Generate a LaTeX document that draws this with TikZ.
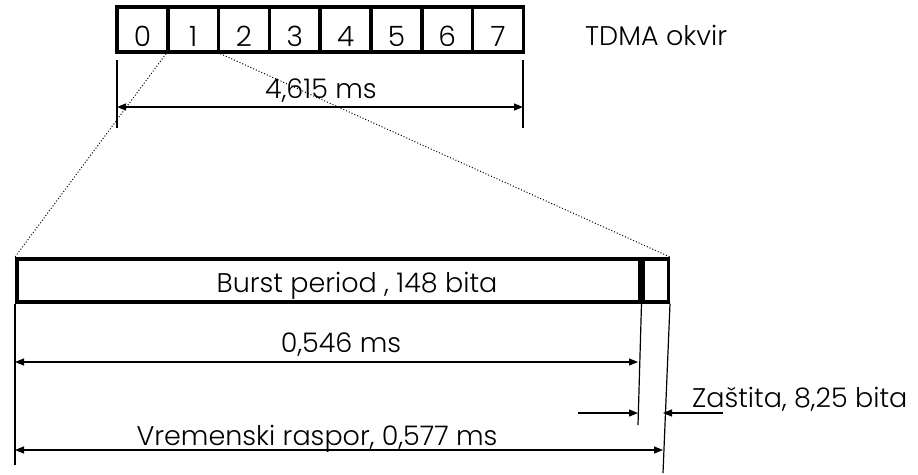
\documentclass[tikz,border=0pt]{standalone}
\usepackage{fontspec}
\setmainfont{Poppins}[UprightFont=* Light]
\usetikzlibrary{arrows.meta}

\begin{document}
\begin{tikzpicture}[x=1pt,y=-1pt,
  slot/.style={draw,line width=3.5pt,minimum width=50.8pt,minimum height=45pt,inner sep=0pt},
  digit/.style={font=\fontsize{28}{30}\selectfont,inner sep=0pt,anchor=base},
  lbl/.style={font=\fontsize{27}{30}\selectfont,inner sep=0pt},
  dim/.style={{Triangle[length=9pt,width=7pt]}-{Triangle[length=9pt,width=7pt]},line width=1.2pt},
  ext/.style={line width=1.2pt}]
\useasboundingbox (0,0) rectangle (918,474);
% TDMA frame
\foreach \i in {0,...,7} {
  \node[slot] (s\i) at ({142.4+50.8*\i},29.5) {};
  \node[digit,yshift=7pt] (d\i) at (s\i.south) {\i};
}
\node[lbl,anchor=base west] (okvir) at (585,45) {TDMA okvir};
\coordinate (fa) at (117,60); \coordinate (fb) at (117,128);
\coordinate (fc) at (523,60); \coordinate (fd) at (523,128);
\draw[ext] (fa) -- (fb); \draw[ext] (fc) -- (fd);
\coordinate (fl) at (117,107); \coordinate (fr) at (523,107);
\draw[dim] (fl) -- (fr);
\node[lbl,anchor=base] (frame) at (321,98) {4,615 ms};
% burst
\node[draw,line width=3.5pt,minimum width=623pt,minimum height=43pt,inner sep=0pt,anchor=north west] (burst) at (15,257) {};
\node[draw,line width=3.5pt,minimum width=25pt,minimum height=43pt,inner sep=0pt,anchor=north west] (guard) at (burst.north east) {};
\node[lbl,anchor=base] (bl) at (357,292) {Burst period , 148 bita};
\draw[dotted,line width=1pt] (s1.south west) -- (burst.north west);
\draw[dotted,line width=1pt] (s1.south east) -- (guard.north east);
% dimensions
\coordinate (e1) at (15,465); \coordinate (e2) at (638,425); \coordinate (e3) at (663,473);
\draw[ext] (burst.south west) -- (e1);
\draw[ext] (burst.south east) -- (e2);
\draw[ext] (guard.south east) -- (e3);
\coordinate (a1) at (15,362); \coordinate (a2) at (638,362);
\draw[dim] (a1) -- (a2);
\node[lbl,anchor=base] (bt) at (341,352) {0,546 ms};
\coordinate (b1) at (15,450); \coordinate (b2) at (663,450);
\draw[dim] (b1) -- (b2);
\node[lbl,anchor=base] (vr) at (317,445) {Vremenski raspor, 0,577 ms};
\coordinate (g1) at (578,413); \coordinate (g2) at (638,413);
\coordinate (g3) at (723,413); \coordinate (g4) at (663,413);
\draw[ext,-{Triangle[length=9pt,width=7pt]}] (g1) -- (g2);
\draw[ext,-{Triangle[length=9pt,width=7pt]}] (g3) -- (g4);
\node[lbl,anchor=base west] (zt) at (692,407) {Zaštita, 8,25 bita};
\end{tikzpicture}
\end{document}
